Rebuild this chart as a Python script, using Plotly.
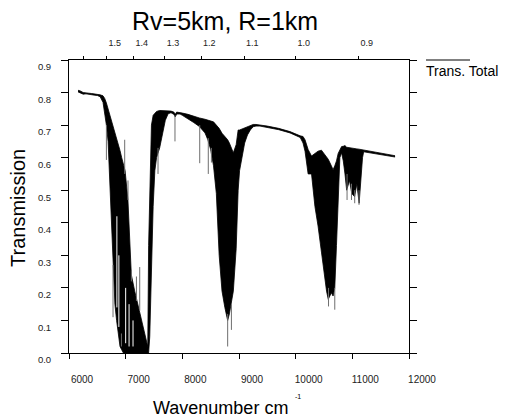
import plotly.graph_objects as go

# ---- data ----
wavenumber = [6160, 6200, 6250, 6300, 6350, 6400, 6450, 6500, 6550, 6600, 6630, 6660, 6690, 6720,
              6750, 6780, 6810, 6840, 6870, 6900, 6930, 6960, 6990, 7040, 7100, 7160, 7220, 7280,
              7340, 7390, 7405, 7425, 7455, 7485, 7515, 7545, 7600, 7650, 7700, 7750, 7800, 7850,
              7875, 7900, 7960, 8000, 8100, 8200, 8300, 8400, 8450, 8500, 8550, 8600, 8650, 8700,
              8750, 8800, 8830, 8860, 8900, 8950, 8985, 9010, 9050, 9100, 9150, 9200, 9250, 9300,
              9370, 9500, 9700, 9900, 10080, 10130, 10165, 10220, 10280, 10340, 10395, 10455, 10510,
              10545, 10575, 10630, 10660, 10690, 10720, 10750, 10780, 10810, 10840, 10870, 10900,
              10950, 10990, 11040, 11080, 11120, 11150, 11180, 11200, 11400, 11600, 11754]
trans_upper = [0.807, 0.805, 0.800, 0.800, 0.798, 0.797, 0.796, 0.795, 0.793, 0.790, 0.782, 0.768,
               0.750, 0.732, 0.715, 0.700, 0.680, 0.662, 0.645, 0.622, 0.600, 0.578, 0.560, 0.470,
               0.240, 0.190, 0.145, 0.095, 0.060, 0.020, 0.330, 0.530, 0.700, 0.730, 0.737, 0.742,
               0.745, 0.745, 0.745, 0.745, 0.743, 0.740, 0.733, 0.740, 0.739, 0.737, 0.733, 0.727,
               0.722, 0.718, 0.716, 0.713, 0.710, 0.700, 0.690, 0.675, 0.665, 0.655, 0.645, 0.630,
               0.615, 0.640, 0.685, 0.685, 0.688, 0.692, 0.697, 0.700, 0.702, 0.702, 0.701, 0.697,
               0.690, 0.680, 0.667, 0.665, 0.655, 0.625, 0.605, 0.613, 0.620, 0.623, 0.610, 0.603,
               0.595, 0.575, 0.563, 0.575, 0.590, 0.613, 0.625, 0.634, 0.635, 0.637, 0.632, 0.630,
               0.630, 0.628, 0.627, 0.626, 0.625, 0.624, 0.623, 0.617, 0.611, 0.606]
trans_lower = [0.802, 0.799, 0.795, 0.796, 0.794, 0.793, 0.792, 0.791, 0.787, 0.770, 0.740, 0.700,
               0.650, 0.530, 0.400, 0.270, 0.150, 0.100, 0.050, 0.020, 0.010, 0.0, 0.0, 0.0,
               0.0, 0.0, 0.0, 0.0, 0.0, 0.0, 0.0, 0.050, 0.250, 0.450, 0.560, 0.600,
               0.630, 0.670, 0.715, 0.735, 0.738, 0.733, 0.725, 0.734, 0.734, 0.730, 0.720, 0.708,
               0.696, 0.676, 0.655, 0.625, 0.575, 0.490, 0.300, 0.190, 0.140, 0.100, 0.120, 0.150,
               0.190, 0.320, 0.500, 0.560, 0.600, 0.645, 0.670, 0.685, 0.695, 0.697, 0.697, 0.693,
               0.686, 0.676, 0.662, 0.645, 0.620, 0.550, 0.550, 0.450, 0.390, 0.310, 0.225, 0.190,
               0.165, 0.185, 0.175, 0.200, 0.330, 0.480, 0.600, 0.615, 0.590, 0.550, 0.500, 0.530,
               0.490, 0.480, 0.520, 0.460, 0.540, 0.600, 0.618, 0.613, 0.607, 0.602]

# isolated absorption lines that stick out of the dense band (grey strokes)
spike_wn = [6660, 6777, 6925, 7571, 7870, 8307, 8458, 8513, 8800, 8866, 10580, 10690,
            10907, 10985, 11042, 11118, 6983, 7041, 7101, 7190, 7248]
spike_top = [0.70, 0.27, 0.06, 0.63, 0.73, 0.70, 0.66, 0.63, 0.12, 0.15, 0.20, 0.20,
             0.55, 0.52, 0.50, 0.50, 0.655, 0.53, 0.254, 0.235, 0.264]
spike_bottom = [0.593, 0.11, 0.02, 0.55, 0.65, 0.583, 0.55, 0.585, 0.02, 0.071, 0.143, 0.133,
                0.47, 0.47, 0.46, 0.455, 0.55, 0.47, 0.22, 0.16, 0.13]

# thin gaps of higher transmission inside the saturated band (white strokes)
gap_wn = [6845, 6880, 7000, 7060, 7130]
gap_top = [0.42, 0.30, 0.20, 0.15, 0.10]
gap_bottom = [0.14, 0.08, 0.03, 0.02, 0.02]

x_ticks = [6000, 7000, 8000, 9000, 10000, 11000, 12000]
y_ticks = [0.0, 0.1, 0.2, 0.3, 0.4, 0.5, 0.6, 0.7, 0.8, 0.9]
wavelength_um = [1.6, 1.5, 1.4, 1.3, 1.2, 1.1, 1.0, 0.9]
wavelength_labels = ["", "1.5", "1.4", "1.3", "1.2", "1.1", "1.0", "0.9"]

title_text = "Rv=5km, R=1km"
legend_text = "Trans. Total"

# ---- layout geometry (figure pixels; page body adds an 8px offset) ----
W, H = 500, 409
L, R, T, B = 61, 99, 52, 64
PW, PH = W - L - R, H - T - B


def px(x):
    return (x - L) / PW


def py(y):
    return (H - B - y) / PH


FONT = "Arial, Liberation Sans, sans-serif"
fig = go.Figure()

fig.add_trace(go.Scatter(x=wavenumber, y=trans_lower, mode="lines",
                         line=dict(color="black", width=0.8), hoverinfo="skip",
                         showlegend=False))
fig.add_trace(go.Scatter(x=wavenumber, y=trans_upper, mode="lines",
                         line=dict(color="black", width=0.8), fill="tonexty",
                         fillcolor="black", showlegend=False))

gx, gy = [], []
for w, t, b in zip(gap_wn, gap_top, gap_bottom):
    gx += [w, w, None]
    gy += [t, b, None]
fig.add_trace(go.Scatter(x=gx, y=gy, mode="lines", line=dict(color="white", width=1),
                         showlegend=False, hoverinfo="skip"))

sx, sy = [], []
for w, t, b in zip(spike_wn, spike_top, spike_bottom):
    sx += [w, w, None]
    sy += [t, b, None]
fig.add_trace(go.Scatter(x=sx, y=sy, mode="lines", line=dict(color="#6e6e6e", width=1),
                         showlegend=False, hoverinfo="skip"))

top_wn = [1e4 / l for l in wavelength_um]
fig.add_trace(go.Scatter(x=[6000, 12000], y=[None, None], xaxis="x2", mode="lines",
                         showlegend=False, hoverinfo="skip"))

fig.update_layout(
    width=W, height=H,
    margin=dict(l=L, r=R, t=T, b=B),
    paper_bgcolor="white", plot_bgcolor="white",
    font=dict(family=FONT, color="#222"),
    xaxis=dict(range=[6000, 12000], tickvals=x_ticks, ticktext=[str(v) for v in x_ticks],
               showline=True, linecolor="black", linewidth=1, ticks="outside", ticklen=5,
               tickcolor="black", showgrid=False, zeroline=False,
               tickfont=dict(size=10, color="#222"), ticklabelshift=13, ticklabelstandoff=12),
    xaxis2=dict(range=[6000, 12000], overlaying="x", side="top", tickvals=top_wn,
                ticktext=wavelength_labels, showline=True, linecolor="black", linewidth=1,
                ticks="outside", ticklen=3, tickcolor="black", showgrid=False,
                zeroline=False, tickfont=dict(size=9, color="#222"), ticklabelshift=8,
                ticklabelstandoff=6),
    yaxis=dict(range=[0, 0.9], tickvals=y_ticks, ticktext=[f"{v:.1f}" for v in y_ticks],
               showline=True, linecolor="black", linewidth=1, ticks="outside", ticklen=7,
               tickcolor="black", mirror="ticks", showgrid=False, zeroline=False,
               tickfont=dict(size=9.5, color="#222"), ticklabelshift=7, ticklabelstandoff=8),
    annotations=[
        dict(text=title_text, xref="paper", yref="paper", x=px(217), y=py(13),
             showarrow=False, font=dict(size=25, color="black", family=FONT),
             xanchor="center", yanchor="middle"),
        dict(text="Transmission", xref="paper", yref="paper", x=px(10), y=py(200),
             textangle=-90, showarrow=False,
             font=dict(size=20, color="black", family=FONT), xanchor="center", yanchor="middle"),
        dict(text="Wavenumber cm", xref="paper", yref="paper", x=px(212), y=py(400),
             showarrow=False, font=dict(size=18, color="black", family=FONT),
             xanchor="center", yanchor="middle"),
        dict(text="-1", xref="paper", yref="paper", x=px(290), y=py(388),
             showarrow=False, font=dict(size=7, color="black", family=FONT),
             xanchor="center", yanchor="middle"),
        dict(text=legend_text, xref="paper", yref="paper", x=px(416), y=py(63),
             showarrow=False, font=dict(size=14, color="black", family=FONT),
             xanchor="left", yanchor="middle"),
    ],
    shapes=[dict(type="line", xref="paper", yref="paper", x0=px(418), x1=px(462),
                 y0=py(52), y1=py(52), line=dict(color="black", width=1))],
)

fig.write_html("out.html")
